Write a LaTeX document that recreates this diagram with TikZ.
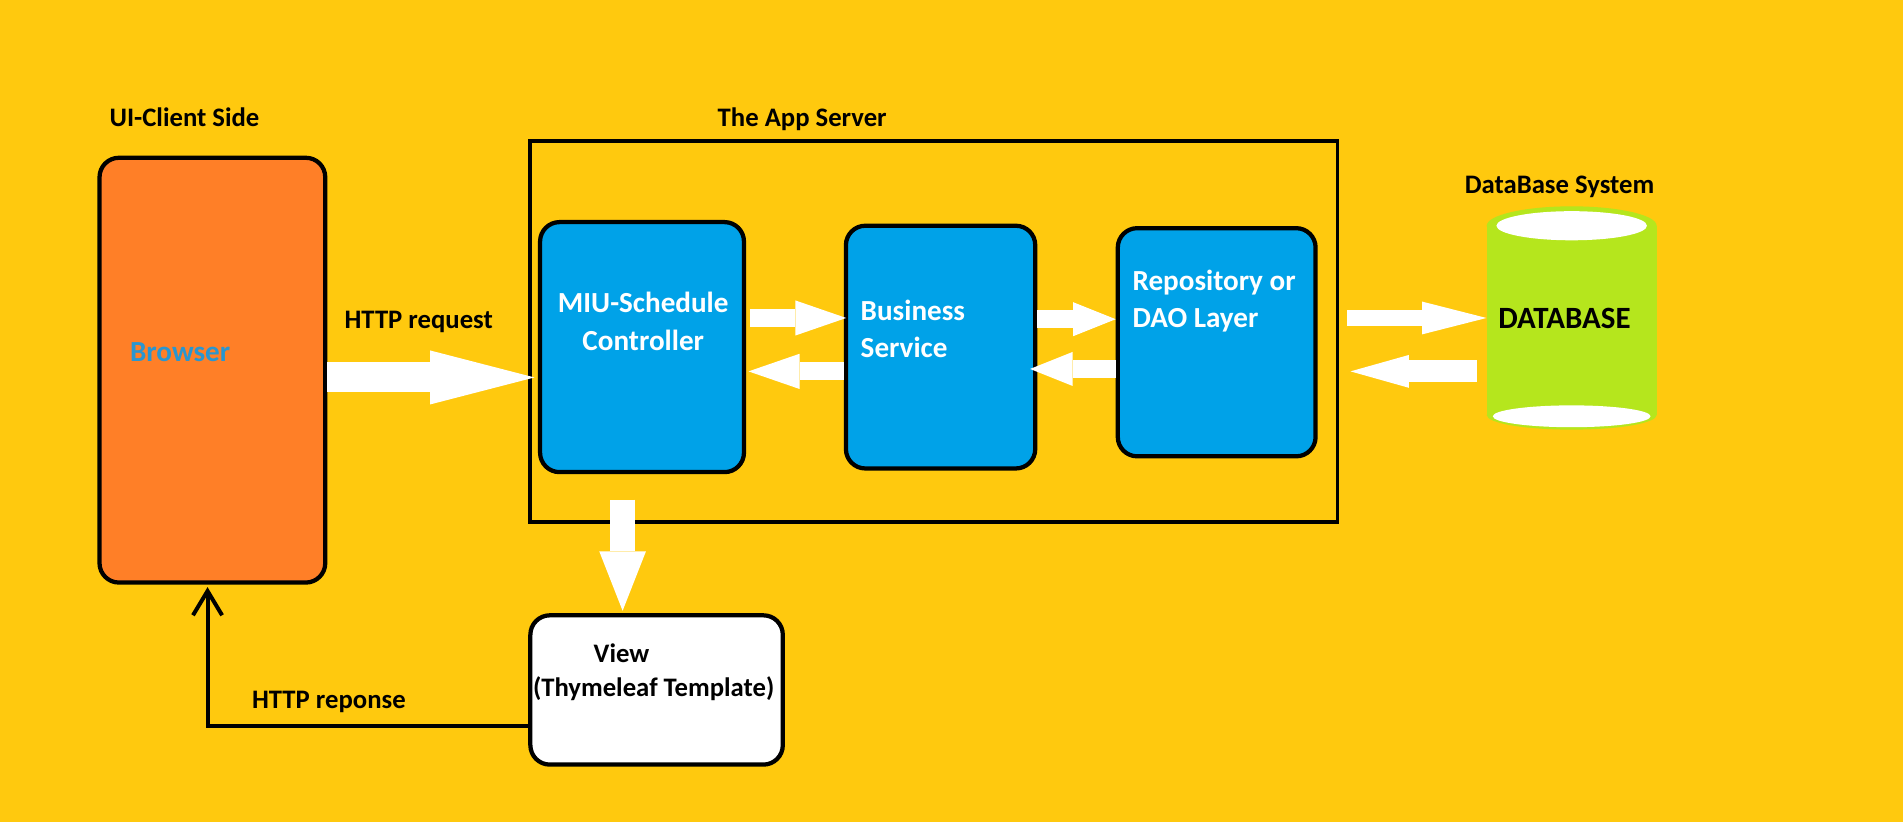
\documentclass[tikz,border=0pt]{standalone}
\usepackage{fontspec}
\setmainfont{Carlito}
\usetikzlibrary{
  arrows.meta,
  positioning,
  calc
}
\definecolor{bggold}{RGB}{255,201,14}
\definecolor{clientorange}{RGB}{255,127,39}
\definecolor{layerblue}{RGB}{0,162,232}
\definecolor{dblime}{RGB}{181,230,29}
\definecolor{browsertext}{RGB}{42,150,208}
\tikzset{
  label text/.style={
    font=\bfseries\fontsize{22}{28}\selectfont, inner sep=0pt
  },
  box text/.style={
    font=\bfseries\fontsize{24}{31}\selectfont, text=white,
    inner sep=0pt, align=left
  },
  layer box/.style={
    draw, line width=3.5pt, rounded corners=16pt, fill=layerblue,
    inner sep=0pt
  },
  block arrow/.style={
    draw=white, line width=15pt,
    -{Triangle[length=42pt, width=29pt, line width=0pt]}
  }
}

\begin{document}
\begin{tikzpicture}[x=1pt, y=-1pt]
\useasboundingbox (0,0) rectangle (1568,677);
\fill[bggold] (0,0) rectangle (1568,677);

% client side
\node[label text] (client label) at (152,97) {UI-Client Side};
\node[layer box, fill=clientorange, minimum width=186pt, minimum height=350pt] (browser) at (175,305) {};
\node[box text, text=browsertext, anchor=west] (browser text) at (107,290) {Browser};

% app server
\node[label text] (app label) at (661,98) {The App Server};
\node[draw, line width=3.2pt, minimum width=665pt, minimum height=314pt, inner sep=0pt] (app) at (769.5,273) {};
\node[layer box, minimum width=168pt, minimum height=206pt] (ctrl) at (529,286) {};
\node[box text, align=center] (ctrl text) at (530,265) {MIU-Schedule\\Controller};
\node[layer box, minimum width=156pt, minimum height=200pt] (bus) at (775,286) {};
\node[box text, anchor=west] (bus text) at (709,271) {Business\\Service};
\node[layer box, minimum width=163pt, minimum height=188pt] (repo) at (1002.5,282) {};
\node[box text, anchor=west] (repo text) at (933,248) {Repository or\\DAO Layer};

% database
\node[label text] (db label) at (1285,154) {DataBase System};
\coordinate (dbc) at (1295,262);
\fill[dblime] ($(dbc)+(-70,-76)$) rectangle ($(dbc)+(70,80)$);
\fill[dblime] ($(dbc)+(0,-76)$) ellipse[x radius=70, y radius=16];
\fill[dblime] ($(dbc)+(0,80)$) ellipse[x radius=70, y radius=12];
\fill[white] ($(dbc)+(0,-76)$) ellipse[x radius=62, y radius=12];
\fill[white] ($(dbc)+(0,81)$) ellipse[x radius=65, y radius=9];
\node[inner sep=0pt, minimum width=140pt, minimum height=180pt,
  font=\bfseries\fontsize{25.5}{31}\selectfont] (db) at (dbc) {\hspace*{-12pt}DATABASE};

% view
\node[draw, line width=3.5pt, rounded corners=16pt, fill=white,
  minimum width=208pt, minimum height=123pt, inner sep=0pt] (view) at (541,568.5) {};
\node[label text, align=left, anchor=west] (view text) at (439,554) {\hspace*{50pt}View\\(Thymeleaf Template)};

% request flow
\draw[block arrow, line width=24.7pt, -{Triangle[length=86pt, width=44.5pt, line width=0pt]}]
  ([shift={(0,6)}]browser.east) -- ($(browser.east -| app.west)+(5,6)$);
\node[label text] (req label) at (345,265) {HTTP request};
\draw[block arrow] ([shift={(3,-24)}]ctrl.east) -- ([shift={(2,-24)}]bus.west);
\draw[block arrow] ([shift={(0,20)}]bus.west) -- ([shift={(2,20)}]ctrl.east);
\draw[block arrow, -{Triangle[length=35pt, width=28pt, line width=0pt]}]
  ([shift={(0,-23)}]bus.east) -- ([shift={(0,-19)}]repo.west);
\draw[block arrow, -{Triangle[length=35pt, width=28pt, line width=0pt]}]
  ([shift={(0,22)}]repo.west) -- ([shift={(-6,18)}]bus.east);
\draw[block arrow, line width=12.5pt, -{Triangle[length=53pt, width=27pt, line width=0pt]}]
  ([shift={(24,-20)}]repo.east) -- (db.west);
\draw[block arrow, line width=18pt, -{Triangle[length=48pt, width=27pt, line width=0pt]}]
  ([shift={(-8,44)}]db.west) -- ([shift={(27,24)}]repo.east);
\draw[block arrow, line width=20.5pt, -{Triangle[length=49pt, width=38.5pt, line width=0pt]}]
  ([shift={(-16,21)}]ctrl.south) -- ([shift={(-28,-2)}]view.north);

% response
\draw[line width=3.3pt, -{Straight Barb[length=20pt, width=24pt, line width=3.3pt]}]
  ([shift={(0,30)}]view.west) -| ([shift={(-4,2)}]browser.south);
\node[label text] (res label) at (271,578) {HTTP reponse};
\end{tikzpicture}
\end{document}
